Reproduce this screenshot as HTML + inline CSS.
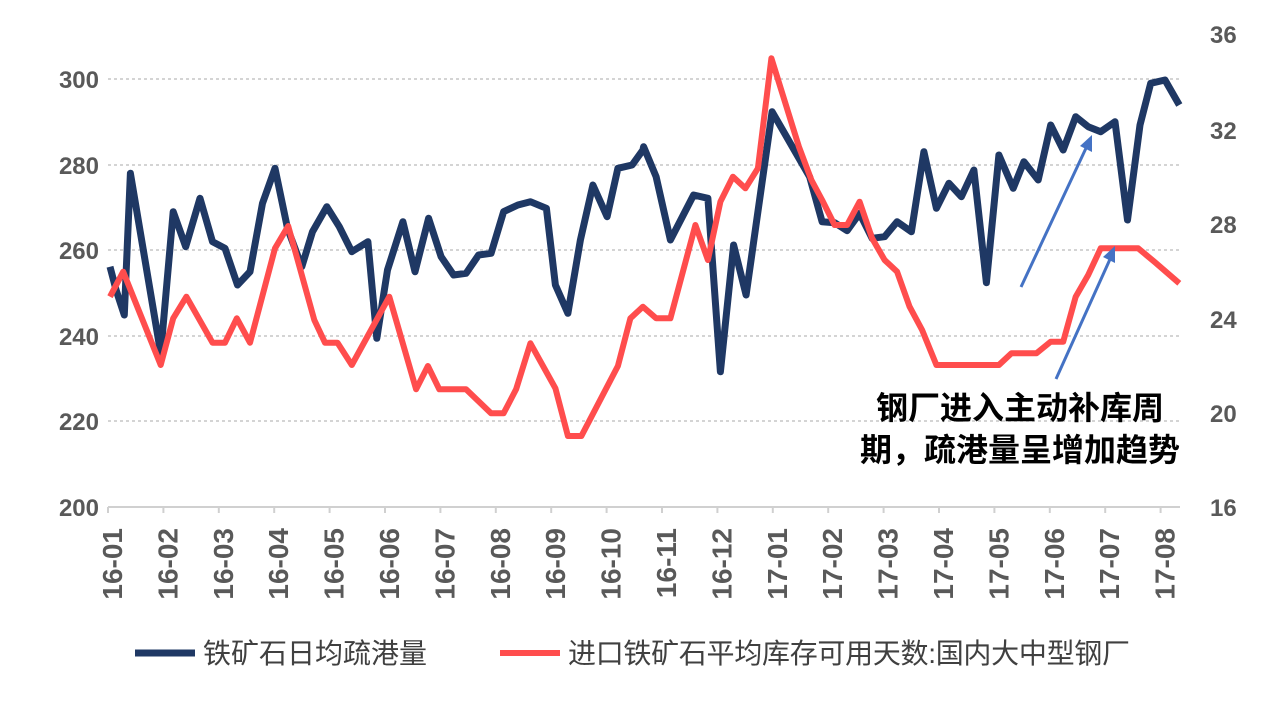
<!DOCTYPE html>
<html><head><meta charset="utf-8"><style>
body{margin:0;background:#fff;width:1264px;height:698px;overflow:hidden}
svg text{font-family:"Liberation Sans","Noto Sans CJK SC",sans-serif}
</style></head><body>
<svg id="s" width="1264" height="698" xmlns="http://www.w3.org/2000/svg">
<g stroke="#d4d4d4" stroke-width="2" stroke-dasharray="3,3">
<line x1="108" y1="79" x2="1180" y2="79"/>
<line x1="108" y1="165" x2="1180" y2="165"/>
<line x1="108" y1="250" x2="1180" y2="250"/>
<line x1="108" y1="336" x2="1180" y2="336"/>
<line x1="108" y1="421" x2="1180" y2="421"/>
</g>
<line x1="108" y1="507" x2="1180" y2="507" stroke="#d0d0d0" stroke-width="2"/>
<g font-size="24" font-weight="bold" fill="#595959" text-anchor="end">
<text x="99" y="88">300</text><text x="99" y="174">280</text><text x="99" y="259">260</text>
<text x="99" y="345">240</text><text x="99" y="430">220</text><text x="99" y="516">200</text>
</g>
<g font-size="24" font-weight="bold" fill="#595959" text-anchor="start">
<text x="1210" y="43">36</text><text x="1210" y="139">32</text><text x="1210" y="233">28</text>
<text x="1210" y="328">24</text><text x="1210" y="422">20</text><text x="1210" y="516">16</text>
</g>
<g id="xl" font-size="28" font-weight="bold" fill="#595959" text-anchor="end"></g>
<polyline id="navy" fill="none" stroke="#1f3864" stroke-width="7" stroke-linejoin="round"/>
<polyline id="red" fill="none" stroke="#ff4d4d" stroke-width="6" stroke-linejoin="round"/>
<g stroke="#4472c4" stroke-width="3">
<line x1="1021" y1="287" x2="1087" y2="146"/>
<line x1="1056" y1="379" x2="1111" y2="257"/>
</g>
<polygon points="1092,135 1092,152 1080,146" fill="#4472c4"/>
<polygon points="1115,246 1115,263 1103,257" fill="#4472c4"/>
<g font-size="32" font-weight="bold" fill="#000" text-anchor="middle">
<text x="1020" y="419">钢厂进入主动补库周</text>
<text x="1020" y="461">期，疏港量呈增加趋势</text>
</g>
<line x1="135" y1="653" x2="195" y2="653" stroke="#1f3864" stroke-width="7"/>
<text x="203" y="663" font-size="28" fill="#404040">铁矿石日均疏港量</text>
<line x1="500" y1="653" x2="560" y2="653" stroke="#ff4d4d" stroke-width="6"/>
<text x="568" y="663" font-size="28" fill="#404040" textLength="562">进口铁矿石平均库存可用天数:国内大中型钢厂</text>
</svg>
<script>
function tr(arr,ox,oy){var o=[];for(var i=0;i<arr.length;i+=2)o.push((ox+arr[i]/2.8).toFixed(1)+','+(oy+arr[i+1]/3).toFixed(1));return o;}
var n1=[28,350,45,420,68,495,85,70,170,610,205,185,240,290,280,145,315,275,350,295,385,405,420,365,455,160,490,55,525,235,565,350,595,245,635,170,670,230,705,305,750,275,775,565,805,360,848,215,882,365,920,205,955,320,990,375,1025,370,1060,315,1095,310,1130,185,1170,165,1205,155,1250,175,1275,405,1310,490,1345,270,1380,105,1420,200,1450,55,1490,45,1520,0];
var n2=[10,320,45,410,85,600,150,465,190,475,225,995,262,615,297,765,370,215,475,410,510,545,545,548,580,572,615,520,650,595,685,590,720,545,760,575,795,335,830,505,865,430,900,470,935,390,970,728,1005,345,1045,445,1075,365,1115,420,1150,255,1185,330,1220,230,1255,260,1290,275,1330,245,1365,540,1400,255,1430,130,1470,120,1510,195];
var r1=[28,440,65,365,170,645,205,505,242,440,315,578,350,578,383,505,420,578,490,295,527,228,600,510,630,578,665,578,705,645,810,440,885,718,918,648,950,718,1025,718,1095,790,1130,790,1165,718,1205,580,1275,715,1310,858,1348,858,1450,648,1485,505,1520,470];
var r2=[45,835,85,835,155,555,190,660,225,485,260,410,295,445,330,385,368,55,445,320,480,420,510,480,545,555,580,555,615,485,650,595,685,660,720,695,755,800,790,870,830,975,1005,975,1040,940,1110,940,1150,905,1185,905,1220,770,1255,705,1290,625,1395,625,1440,665,1510,730];
document.getElementById('navy').setAttribute('points',tr(n1,100,150).concat(tr(n2,640,40)).join(' '));
document.getElementById('red').setAttribute('points',tr(r1,100,150).concat(tr(r2,640,40)).join(' '));
var labs=['16-01','16-02','16-03','16-04','16-05','16-06','16-07','16-08','16-09','16-10','16-11','16-12','17-01','17-02','17-03','17-04','17-05','17-06','17-07','17-08'];
var g=document.getElementById('xl'),ns='http://www.w3.org/2000/svg';
for(var i=0;i<labs.length;i++){var x=108+i*55.4;
var t=document.createElementNS(ns,'text');t.setAttribute('transform','translate('+(x+14)+',528) rotate(-90)');t.textContent=labs[i];g.appendChild(t);
var l=document.createElementNS(ns,'line');l.setAttribute('x1',x);l.setAttribute('x2',x);l.setAttribute('y1',507);l.setAttribute('y2',513);l.setAttribute('stroke','#d0d0d0');l.setAttribute('stroke-width','2');document.getElementById('s').appendChild(l);}
</script>
</body></html>
